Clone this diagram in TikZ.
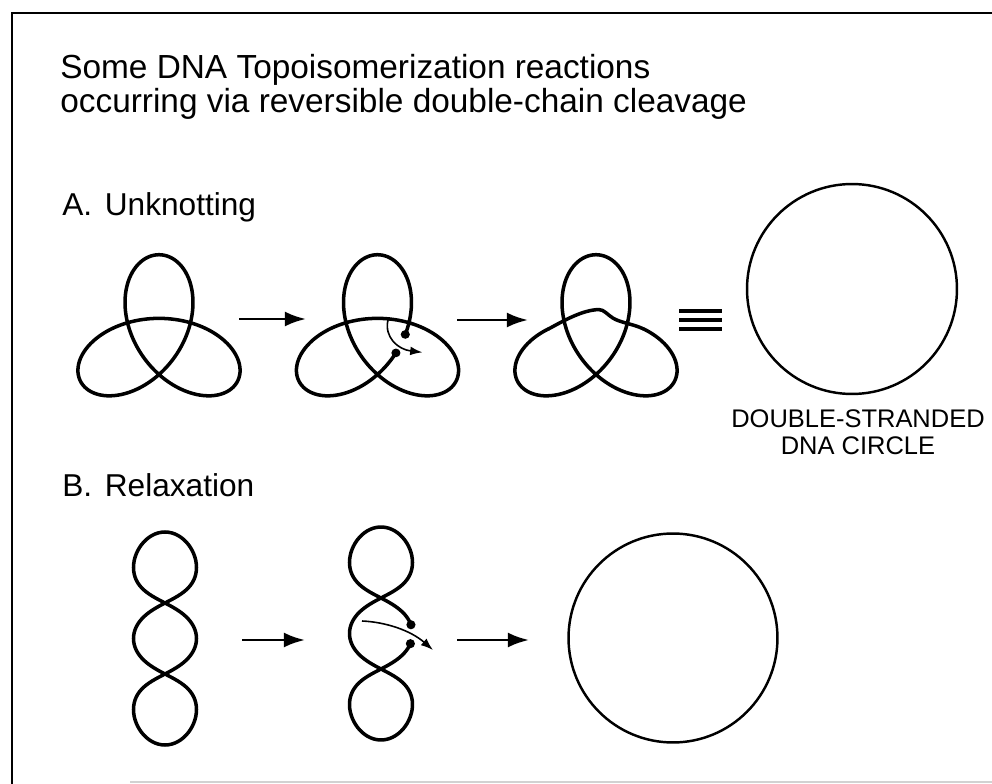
\documentclass[tikz,border=0pt]{standalone}
\usepackage{fontspec}
\setmainfont{Liberation Sans}
\usetikzlibrary{arrows.meta}

\begin{document}
\begin{tikzpicture}[x=0.02cm, y=-0.02cm,
  strand/.style={line width=2pt, line join=round, line cap=round},
  ring/.style={line width=1.4pt},
  rxn/.style={line width=1.6pt, -{Latex[length=12pt,width=8.5pt]}},
  pass/.style={line width=0.9pt, -{Latex[length=7pt,width=5pt]}},
  frame/.style={line width=1.6pt},
  equiv/.style={line width=2pt},
  title/.style={anchor=base west, font=\fontsize{19}{23}\selectfont, inner sep=0pt},
  heading/.style={anchor=base west, font=\fontsize{18}{22}\selectfont, inner sep=0pt},
  caption/.style={anchor=base, font=\fontsize{14.5}{16}\selectfont, inner sep=0pt},
  knot/.style={yscale=0.95},
  nick/.style={fill=black}
]
\useasboundingbox (0,0) rectangle (992,784);

% frame
\draw[frame] (12,784) -- (12,13) -- (992,13);
\draw[gray!35, line width=0.8pt] (130,782) -- (992,782);

% headings
\node[title] (title1) at (60,79) {Some DNA Topoisomerization reactions};
\node[title] (title2) at (60,113) {occurring via reversible double-chain cleavage};
\node[heading] (secA) at (62,215) {A.\hspace{0.4em}Unknotting};
\node[heading] (secB) at (62,496) {B.\hspace{0.4em}Relaxation};

% ---------- A. trefoil knots ----------
% trefoil 1
\begin{scope}[shift={(159,340)}, knot]
  \draw[strand] plot[domain=0:360,samples=181,smooth,variable=\t]
    ({33.5*(sin(\t)+1.68*sin(2*\t))},{33.5*(cos(\t)-1.68*cos(2*\t))});
\end{scope}

% trefoil 2: one strand cut, the other passed through the gap
\begin{scope}[shift={(377.5,340)}, knot]
  \draw[strand] plot[domain=241:592.5,samples=181,smooth,variable=\t]
    ({33.5*(sin(\t)+1.68*sin(2*\t))},{33.5*(cos(\t)-1.68*cos(2*\t))});
  \fill[nick] ({33.5*(sin(232.5)+1.68*sin(465))},{33.5*(cos(232.5)-1.68*cos(465))}) circle[radius=2.6pt];
  \fill[nick] ({33.5*(sin(241)+1.68*sin(482))},{33.5*(cos(241)-1.68*cos(482))}) circle[radius=2.6pt];
  \coordinate (pA0) at (10.5,-21);
  \coordinate (pA1) at (45,13);
  \draw[pass] (pA0) .. controls (6.5,-3) and (20.5,10) .. (pA1);
\end{scope}

% trefoil 3: crossing changed, band kinked
\begin{scope}[shift={(596,340)}, knot]
  \draw[strand] plot[domain=20:340,samples=161,smooth,variable=\t]
    ({33.5*(sin(\t)+1.68*sin(2*\t))},{33.5*(cos(\t)-1.68*cos(2*\t))});
  \draw[strand] (-47.6,-11.6) .. controls (-36,-18) and (-14,-32) .. (3,-32)
    .. controls (8,-32) and (11,-27) .. (17,-23)
    .. controls (25,-18) and (37,-17) .. (47.6,-11.6);
\end{scope}

% equivalence sign
\coordinate (eqL) at (679,320);
\coordinate (eqR) at (722,320);
\draw[equiv] ([yshift=-9*0.02cm]eqL) -- ([yshift=-9*0.02cm]eqR);
\draw[equiv] (eqL) -- (eqR);
\draw[equiv] ([yshift=9*0.02cm]eqL) -- ([yshift=9*0.02cm]eqR);

% relaxed circle A
\draw[ring] (852,289) circle[radius=2.1cm];
\node[caption] (ds1) at (858,427) {DOUBLE-STRANDED};
\node[caption] (ds2) at (858,455) {DNA CIRCLE};

% reaction arrows A
\coordinate (a1s) at (239,319); \coordinate (a1e) at (306,319);
\coordinate (a2s) at (457,320); \coordinate (a2e) at (528,320);
\draw[rxn] (a1s) -- (a1e);
\draw[rxn] (a2s) -- (a2e);

% ---------- B. supercoiled loops ----------
\begin{scope}[shift={(165,638.5)}]
  \draw[strand] plot[domain=0:360,samples=181,smooth,variable=\t]
    ({31.5*sin(3*\t)},{-106.5*(0.8294*cos(\t)+0.1111*cos(3*\t)+0.0595*cos(5*\t))});
\end{scope}

\begin{scope}[shift={(381,633.5)}]
  \draw[strand] plot[domain=276:623.5,samples=181,smooth,variable=\t]
    ({31.5*sin(3*\t)},{-106.5*(0.8294*cos(\t)+0.1111*cos(3*\t)+0.0595*cos(5*\t))});
  \fill[nick] ({31.5*sin(789)},{-106.5*(0.8294*cos(263)+0.1111*cos(789)+0.0595*cos(1315))}) circle[radius=2.6pt];
  \fill[nick] ({31.5*sin(828)},{-106.5*(0.8294*cos(276)+0.1111*cos(828)+0.0595*cos(1380))}) circle[radius=2.6pt];
  \coordinate (pB0) at (-19,-12.5);
  \coordinate (pB1) at (52,16.5);
  \draw[pass] (pB0) .. controls (4,-11.5) and (29,-3.5) .. (pB1);
\end{scope}

\draw[ring] (673,638) circle[radius=2.09cm];

% reaction arrows B
\coordinate (b1s) at (242,640); \coordinate (b1e) at (305,640);
\coordinate (b2s) at (457,640); \coordinate (b2e) at (529,640);
\draw[rxn] (b1s) -- (b1e);
\draw[rxn] (b2s) -- (b2e);

\end{tikzpicture}
\end{document}
